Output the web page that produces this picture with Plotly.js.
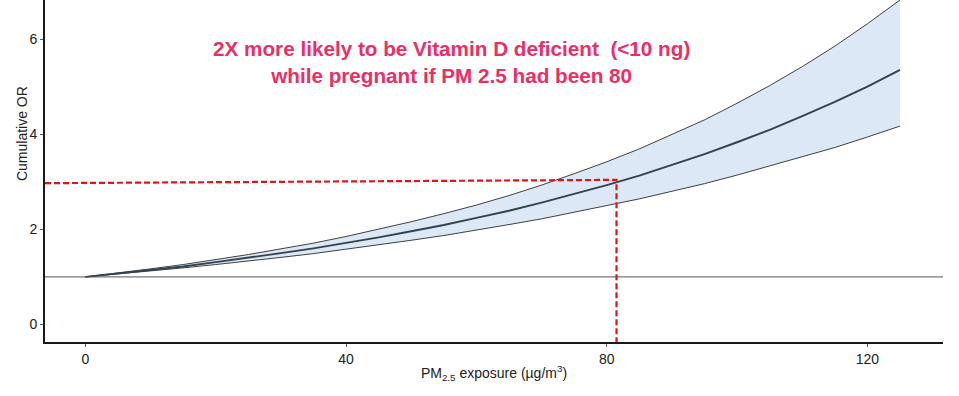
<!DOCTYPE html>
<html>
<head>
<meta charset="utf-8">
<script src="https://cdn.plot.ly/plotly-3.0.1.min.js"></script>
<style>html,body{margin:0;padding:0;background:#fff;}#chart{width:959px;height:396px;}</style>
</head>
<body>
<div id="chart"></div>
<script>
// PM2.5 exposure (µg/m3)
const exposure = [0,5,10,15,20,25,30,35,40,45,50,55,60,65,70,75,80,85,90,95,100,105,110,115,120,125];
// Cumulative OR (central estimate)
const orCentral = [1.00,1.07,1.14,1.22,1.31,1.40,1.50,1.60,1.71,1.83,1.96,2.09,2.24,2.39,2.56,2.74,2.93,3.13,3.35,3.58,3.83,4.09,4.38,4.68,5.00,5.35];
// Upper confidence bound
const orUpper = [1.00,1.08,1.17,1.26,1.36,1.47,1.59,1.71,1.85,2.00,2.16,2.33,2.51,2.71,2.93,3.17,3.42,3.69,3.99,4.30,4.65,5.02,5.42,5.85,6.32,6.82];
// Lower confidence bound
const orLower = [1.00,1.06,1.12,1.19,1.26,1.33,1.41,1.49,1.58,1.67,1.77,1.87,1.98,2.10,2.22,2.36,2.49,2.64,2.80,2.96,3.14,3.33,3.52,3.72,3.94,4.17];
// Reference line OR = 1
const refOR = [1, 1];
const refX = [-6.2, 131.6];
// Highlight at PM2.5 ≈ 80
const hlX = [-6.2, 81.5, 81.5];
const hlY = [2.97, 3.04, -0.37];
const xTicks = [0, 40, 80, 120];
const yTicks = [0, 2, 4, 6];

const font = "Liberation Sans, Arial, sans-serif";

const traces = [
  {x: exposure, y: orLower, type: 'scatter', mode: 'lines', line: {color: '#2b2b2b', width: 0.9}, hoverinfo: 'skip', showlegend: false},
  {x: exposure, y: orUpper, type: 'scatter', mode: 'lines', fill: 'tonexty', fillcolor: '#dce8f5', line: {color: '#2b2b2b', width: 0.9}, hoverinfo: 'skip', showlegend: false},
  {x: exposure, y: orCentral, type: 'scatter', mode: 'lines', line: {color: '#34424c', width: 1.9}, showlegend: false},
  {x: refX, y: refOR, type: 'scatter', mode: 'lines', line: {color: '#555555', width: 1}, showlegend: false},
  {x: hlX, y: hlY, type: 'scatter', mode: 'lines', line: {color: '#e3121b', width: 2.2, dash: '6px,3px'}, showlegend: false, cliponaxis: false}
];

const layout = {
  width: 959, height: 396,
  margin: {l: 45, r: 16, t: 0, b: 54},
  paper_bgcolor: '#ffffff', plot_bgcolor: '#ffffff',
  font: {family: font, size: 14, color: '#222222'},
  xaxis: {
    range: [-6.2, 131.6], tickvals: xTicks, ticktext: xTicks.map(String),
    showgrid: false, zeroline: false, showline: true, linecolor: '#1a1a1a', linewidth: 2,
    ticks: 'outside', ticklen: 3, tickcolor: '#555', tickwidth: 1,
    tickfont: {family: font, size: 14, color: '#222'},
    title: {text: 'PM<sub>2.5</sub> exposure (µg/m<sup>3</sup>)', font: {family: font, size: 14, color: '#222'}, standoff: 2}
  },
  yaxis: {
    range: [-0.368, 6.82], tickvals: yTicks, ticktext: yTicks.map(String),
    showgrid: false, zeroline: false, showline: true, linecolor: '#1a1a1a', linewidth: 2,
    ticks: 'outside', ticklen: 3, tickcolor: '#555', tickwidth: 1,
    tickfont: {family: font, size: 14, color: '#222'}
  },
  annotations: [
    {text: 'Cumulative OR', xref: 'paper', yref: 'paper', x: -0.0256, y: 0.608, textangle: -90,
     showarrow: false, font: {family: font, size: 14, color: '#222'}, xanchor: 'center', yanchor: 'middle'},
    {text: '<b>2X more likely to be Vitamin D deficient \u00a0(&lt;10 ng)<br>while pregnant if PM 2.5 had been 80</b>',
     xref: 'paper', yref: 'paper', x: 0.453, y: 0.818, showarrow: false, align: 'center',
     font: {family: font, size: 20.7, color: '#ea2f66'}, xanchor: 'center', yanchor: 'middle'}
  ],
  showlegend: false
};

Plotly.newPlot('chart', traces, layout, {displayModeBar: false, staticPlot: true});
</script>
</body>
</html>
